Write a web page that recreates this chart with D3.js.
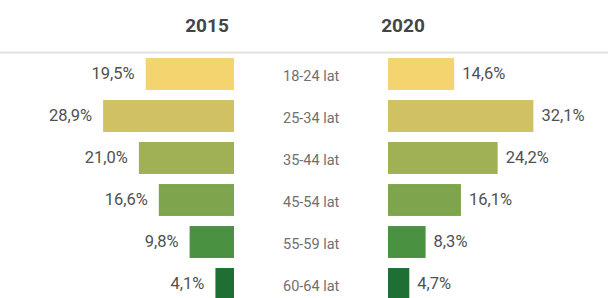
<!doctype html>
<html>
<head>
    <script src="https://d3js.org/d3.v7.min.js"></script>
    <style>
      body { margin: 0; background: #fff; }
      svg { font-family: Roboto, sans-serif; }
    </style>
</head>
<body>
    <script>
    var width = 608, height = 298;

    var categories = ["18-24 lat", "25-34 lat", "35-44 lat", "45-54 lat", "55-59 lat", "60-64 lat"];
    var values2015 = [19.5, 28.9, 21.0, 16.6, 9.8, 4.1];
    var values2020 = [14.6, 32.1, 24.2, 16.1, 8.3, 4.7];
    var years = ["2015", "2020"];
    var colors = ["#f4d46f", "#d0c263", "#9fb055", "#7ea54d", "#4a9142", "#1f6e33"];

    var fmt = function(v){ return d3.format(".1f")(v).replace(".", ",") + "%"; };

    var svg = d3.select("body").append("svg")
                .attr("width", width)
                .attr("height", height);

    // rows
    var y = d3.scaleBand().domain(categories).range([53, 305]).paddingInner(0.24).paddingOuter(0.12);
    // bar lengths, left side grows leftwards from 234, right from 388
    var len = d3.scaleLinear().domain([0, 10]).range([0, 45.3]);
    var leftEdge = 234, rightEdge = 388;

    svg.append("line")
       .attr("x1", 0).attr("x2", width)
       .attr("y1", 52.5).attr("y2", 52.5)
       .style("stroke", "#e2e2e2").style("stroke-width", 2);

    svg.selectAll(".year")
       .data(years)
       .enter().append("text")
       .attr("x", function(d, i){ return i == 0 ? 207 : 403; })
       .attr("y", 32)
       .attr("text-anchor", "middle")
       .style("font-size", "19px")
       .style("font-weight", "bold")
       .style("fill", "#454545")
       .text(function(d){ return d; });

    // 2015 bars
    svg.selectAll(".bar15")
       .data(values2015)
       .enter().append("rect")
       .attr("x", function(d){ return leftEdge - len(d); })
       .attr("y", function(d, i){ return y(categories[i]); })
       .attr("width", function(d){ return len(d); })
       .attr("height", y.bandwidth())
       .style("fill", function(d, i){ return colors[i]; });

    svg.selectAll(".lab15")
       .data(values2015)
       .enter().append("text")
       .attr("x", function(d){ return leftEdge - len(d) - 11; })
       .attr("y", function(d, i){ return y(categories[i]) + y.bandwidth()/2 + 4.5; })
       .attr("text-anchor", "end")
       .style("font-size", "16.5px")
       .style("fill", "#505050")
       .text(function(d){ return fmt(d); });

    // 2020 bars
    svg.selectAll(".bar20")
       .data(values2020)
       .enter().append("rect")
       .attr("x", rightEdge)
       .attr("y", function(d, i){ return y(categories[i]); })
       .attr("width", function(d){ return len(d); })
       .attr("height", y.bandwidth())
       .style("fill", function(d, i){ return colors[i]; });

    svg.selectAll(".lab20")
       .data(values2020)
       .enter().append("text")
       .attr("x", function(d){ return rightEdge + len(d) + 8; })
       .attr("y", function(d, i){ return y(categories[i]) + y.bandwidth()/2 + 4.5; })
       .style("font-size", "16.5px")
       .style("fill", "#505050")
       .text(function(d){ return fmt(d); });

    // age groups in the middle
    svg.selectAll(".cat")
       .data(categories)
       .enter().append("text")
       .attr("x", 283)
       .attr("y", function(d){ return y(d) + y.bandwidth()/2 + 7; })
       .style("font-size", "14.5px")
       .style("fill", "#707070")
       .text(function(d){ return d; });
    </script>
</body>
</html>
